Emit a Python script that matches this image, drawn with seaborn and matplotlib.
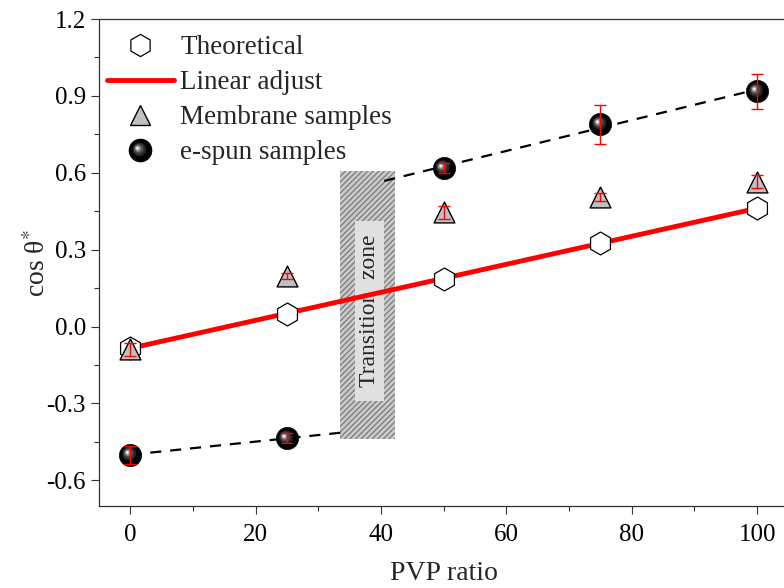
import numpy as np
import pandas as pd
import matplotlib
matplotlib.use("Agg")
import matplotlib.pyplot as plt
import seaborn as sns
from matplotlib.path import Path
from matplotlib.markers import MarkerStyle
from matplotlib.lines import Line2D
from matplotlib.patches import Rectangle
from matplotlib.legend_handler import HandlerTuple

# ---------------- data ----------------
pvp_ratio = [0, 25, 50, 75, 100]
theoretical = [-0.083, 0.051, 0.186, 0.325, 0.463]
membrane = [-0.088, 0.196, 0.446, 0.505, 0.566]
membrane_err = [0.025, 0.012, 0.025, 0.015, 0.025]
espun = [-0.50, -0.436, 0.618, 0.790, 0.918]
espun_err = [0.035, 0.020, 0.020, 0.076, 0.068]
lower_fit_range = [0, 33.5]     # e-spun below the transition zone
upper_fit_range = [40.5, 100]   # e-spun above the transition zone
x_ticks = [0, 20, 40, 60, 80, 100]
y_ticks = [-0.6, -0.3, 0.0, 0.3, 0.6, 0.9, 1.2]
legend_labels = ["Theoretical", "Linear adjust", "Membrane samples", "e-spun samples"]

# ---------------- style ----------------
sns.set_style("ticks")
plt.rcParams["font.family"] = ["Liberation Serif", "DejaVu Serif"]
plt.rcParams["mathtext.fontset"] = "stix"
plt.rcParams["axes.unicode_minus"] = False
plt.rcParams["hatch.linewidth"] = 0.9

fig = plt.figure(figsize=(7.84, 5.88), dpi=100)
ax = fig.add_axes([99 / 784, 1 - 506 / 588, 689.5 / 784, 487 / 588])

df = pd.DataFrame({"x": pvp_ratio, "theo": theoretical, "mem": membrane,
                   "mem_err": membrane_err, "esp": espun, "esp_err": espun_err})

# Linear fit of theoretical values
k, b = np.polyfit(pvp_ratio, theoretical, 1)
fit_x = np.array([pvp_ratio[0], pvp_ratio[-1]])
sns.lineplot(x=fit_x, y=k * fit_x + b, color="red", lw=3.5, ax=ax, zorder=3)

# e-spun dashed trend lines (fits of the low and high groups)
kl, bl = np.polyfit(pvp_ratio[:2], espun[:2], 1)
ku, bu = np.polyfit(pvp_ratio[2:], espun[2:], 1)
lx = np.array(lower_fit_range)
ux = np.array(upper_fit_range)
ax.plot(lx, kl * lx + bl, color="black", lw=1.6, ls=(0, (5, 4)), zorder=2)
ax.plot(ux, ku * ux + bu, color="black", lw=1.6, ls=(0, (5, 4)), zorder=2)

# Transition zone
ax.add_patch(Rectangle((33.5, -0.44), 8.8, 1.048, facecolor="#cacaca",
                       edgecolor="none", lw=0, zorder=1))
ax.add_patch(Rectangle((33.5, -0.44), 8.8, 1.048, facecolor="none",
                       edgecolor="#7a7a7a", hatch="//////", lw=0, zorder=1.1))
ax.add_patch(Rectangle((35.8, -0.29), 4.7, 0.70, facecolor="#e0e0e0",
                       edgecolor="none", zorder=1.5))
ax.text(38.15, 0.062, "Transition  zone", rotation=90, ha="center", va="center",
        fontsize=17, zorder=1.6)

# Theoretical hexagons
sns.scatterplot(data=df, x="x", y="theo", marker="h", s=16.5 ** 2,
                facecolor="white", edgecolor="black", linewidth=0.9, ax=ax, zorder=4)

# Membrane triangles
sns.scatterplot(data=df, x="x", y="mem", marker="^", s=15 ** 2,
                facecolor="#c0c0c0", edgecolor="black", linewidth=1.0, ax=ax, zorder=5)


# e-spun spheres: black ball + offset highlight layers
def layer(cx, cy, r):
    t = np.linspace(0, 2 * np.pi, 40)
    verts = [(cx + r * np.cos(a), cy + r * np.sin(a)) for a in t]
    codes = [Path.MOVETO] + [Path.LINETO] * (len(verts) - 2) + [Path.CLOSEPOLY]
    verts += [(1, 1), (-1, -1)]
    codes += [Path.MOVETO, Path.MOVETO]
    return MarkerStyle(Path(verts, codes))


sphere_size = 16
sphere_layers = [(-0.10, 0.10, 0.62, "#262626"), (-0.16, 0.14, 0.45, "#4a4a4a"),
                 (-0.22, 0.18, 0.30, "#858585"), (-0.26, 0.20, 0.17, "#c8c8c8"),
                 (-0.28, 0.21, 0.08, "#ffffff")]
sns.scatterplot(data=df, x="x", y="esp", marker="o", s=sphere_size ** 2,
                color="black", edgecolor="black", linewidth=0.5, ax=ax, zorder=6)
for cx, cy, r, c in sphere_layers:
    ax.scatter(df["x"], df["esp"], marker=layer(cx, cy, r), s=sphere_size ** 2,
               color=c, edgecolors="none", zorder=6.1)

# Error bars
ax.errorbar(df["x"], df["mem"], yerr=df["mem_err"], fmt="none", ecolor="red",
            elinewidth=1.0, capsize=4.5, capthick=1.0, zorder=7)
ax.errorbar(df["x"], df["esp"], yerr=df["esp_err"], fmt="none", ecolor="red",
            elinewidth=1.0, capsize=4.5, capthick=1.0, zorder=7)

# Axes
ax.set_xticks(x_ticks)
ax.set_yticks(y_ticks)
ax.set_yticklabels([f"{v:.1f}" for v in y_ticks])
ax.set_xticks(np.arange(0, 101, 10), minor=True)
ax.set_yticks(np.arange(-0.6, 1.21, 0.15), minor=True)
ax.set_xlim(-5, 105)
ax.set_ylim(-0.7, 1.2)
ax.tick_params(axis="both", which="major", labelsize=18, length=6, width=0.8,
               direction="out", colors="#333333", labelcolor="black")
ax.tick_params(axis="x", which="major", pad=7)
ax.tick_params(axis="both", which="minor", length=3.5, width=0.8, direction="out",
               colors="#333333")
for s in ["left", "bottom", "top", "right"]:
    ax.spines[s].set_visible(True)
    ax.spines[s].set_linewidth(0.9)
    ax.spines[s].set_color("#333333")
ax.set_xlabel("PVP ratio", fontsize=20, labelpad=11)
ax.set_ylabel("cos θ$^{*}$", fontsize=20)
ax.yaxis.set_label_coords(-0.07, 0.5)

# Legend
hex_h = Line2D([], [], ls="none", marker="h", ms=16, mfc="white", mec="black", mew=0.9)
line_h = Line2D([], [], color="red", lw=3.5)
tri_h = Line2D([], [], ls="none", marker="^", ms=15, mfc="#c0c0c0", mec="black", mew=1.0)
sph = [Line2D([], [], ls="none", marker="o", ms=sphere_size, mfc="black", mec="black")]
for cx, cy, r, c in sphere_layers:
    sph.append(Line2D([], [], ls="none", marker=layer(cx, cy, r), ms=sphere_size,
                      mfc=c, mec="none"))
ax.legend([hex_h, line_h, tri_h, tuple(sph)], legend_labels,
          handler_map={tuple: HandlerTuple(ndivide=1, pad=0)},
          loc="upper left", bbox_to_anchor=(0.012, 0.967), frameon=False,
          fontsize=19.5, handlelength=2.45, handletextpad=0.25, labelspacing=0.37,
          borderpad=0, borderaxespad=0)

fig.savefig("out.png", dpi=100)
